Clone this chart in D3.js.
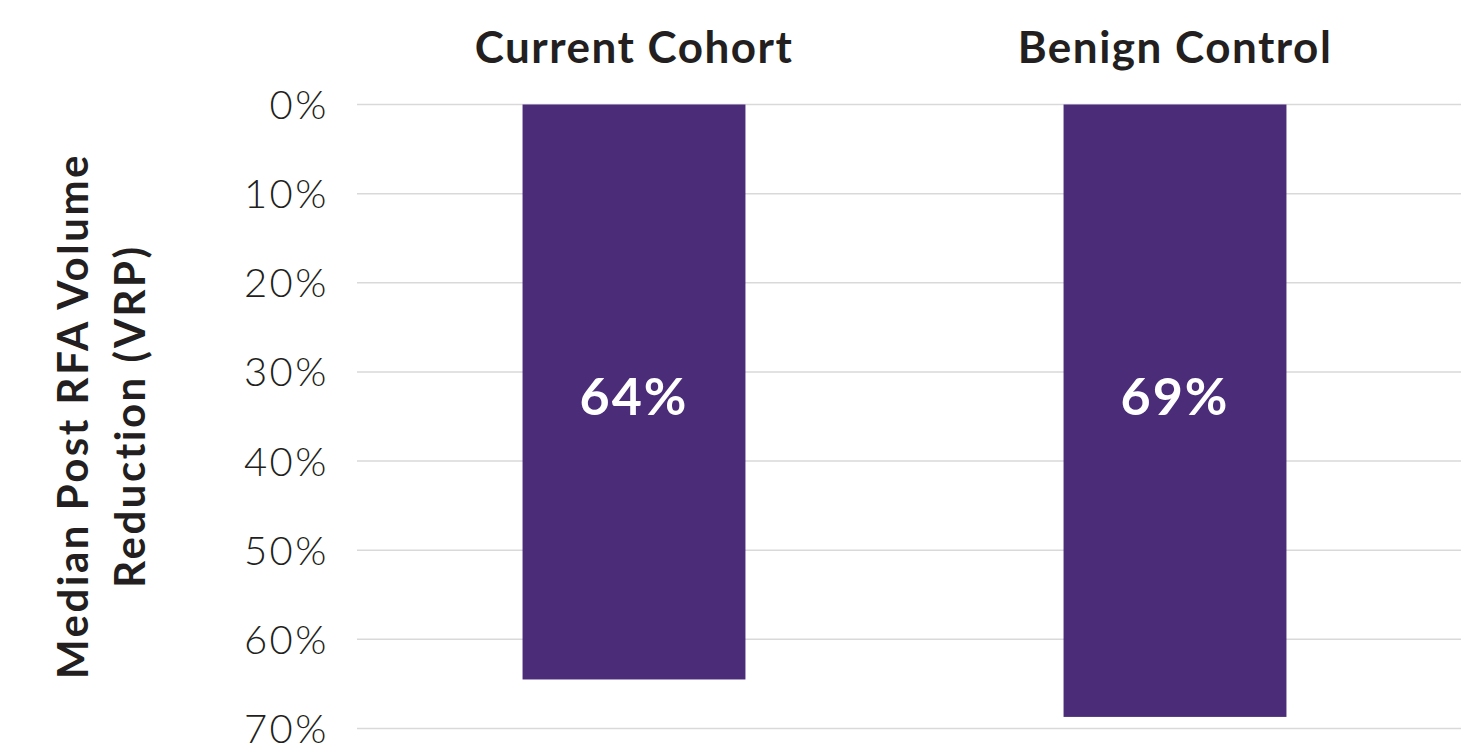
<!DOCTYPE html>
<html>
<head>
<meta charset="utf-8">
<script src="https://cdn.jsdelivr.net/npm/d3@7"></script>
<style>
  html, body { margin: 0; padding: 0; background: #fff; }
  svg { display: block; }
</style>
</head>
<body>
<svg id="chart" width="1461" height="746"></svg>
<script>
// categories and median volume reduction values
const categories = ['Current Cohort', 'Benign Control'];
const values = [0.645, 0.687];
const valueLabels = ['64%', '69%'];
const yTicks = [0, 0.1, 0.2, 0.3, 0.4, 0.5, 0.6, 0.7];
const yTitleLines = ['Median Post RFA Volume', 'Reduction (VRP)'];

const svg = d3.select('#chart');
const width = 1461;

const x = d3.scaleBand()
  .domain(categories)
  .range([357, 1452])
  .paddingInner(0.588)
  .paddingOuter(0.306);

// axis runs downward: 0% at top
const y = d3.scaleLinear()
  .domain([0, 0.7])
  .range([104.5, 728.5]);

// gridlines
svg.append('g')
  .selectAll('line')
  .data(yTicks)
  .enter()
  .append('line')
  .attr('x1', 357)
  .attr('x2', width)
  .attr('y1', d => y(d))
  .attr('y2', d => y(d))
  .attr('stroke', '#d9d9d9')
  .attr('stroke-width', 1.5);

// y tick labels via axis
const yAxis = svg.append('g')
  .attr('transform', 'translate(357,0)')
  .call(d3.axisLeft(y).tickValues(yTicks).tickFormat(d3.format('.0%')).tickSize(0).tickPadding(28));
yAxis.select('.domain').remove();
yAxis.selectAll('text')
  .attr('font-family', 'Lato, sans-serif')
  .attr('font-weight', 300)
  .attr('font-size', 40)
  .attr('letter-spacing', 2.5)
  .attr('fill', '#231f20')
  .attr('dy', '0.35em');

// bars
svg.selectAll('.bar')
  .data(values)
  .enter()
  .append('rect')
  .attr('class', 'bar')
  .attr('x', (d, i) => x(categories[i]))
  .attr('y', y(0))
  .attr('width', x.bandwidth())
  .attr('height', d => y(d) - y(0))
  .attr('fill', '#4b2c78');

// value labels inside bars
svg.selectAll('.val')
  .data(valueLabels)
  .enter()
  .append('text')
  .attr('class', 'val')
  .attr('x', (d, i) => x(categories[i]) + x.bandwidth() / 2)
  .attr('y', 415)
  .attr('text-anchor', 'middle')
  .attr('font-family', 'Lato, sans-serif')
  .attr('font-weight', 700)
  .attr('font-size', 52)
  .attr('letter-spacing', 2)
  .attr('fill', '#ffffff')
  .text(d => d);

// category headers on top
svg.selectAll('.cat')
  .data(categories)
  .enter()
  .append('text')
  .attr('class', 'cat')
  .attr('x', d => x(d) + x.bandwidth() / 2)
  .attr('y', 63)
  .attr('text-anchor', 'middle')
  .attr('font-family', 'Lato, sans-serif')
  .attr('font-weight', 700)
  .attr('font-size', 44)
  .attr('letter-spacing', 1.5)
  .attr('fill', '#231f20')
  .text(d => d);

// y axis title, two lines
svg.append('g')
  .attr('transform', 'translate(0,416) rotate(-90)')
  .selectAll('text')
  .data(yTitleLines)
  .enter()
  .append('text')
  .attr('x', 0)
  .attr('y', (d, i) => 88 + i * 57)
  .attr('text-anchor', 'middle')
  .attr('font-family', 'Lato, sans-serif')
  .attr('font-weight', 700)
  .attr('font-size', 42)
  .attr('letter-spacing', 2.5)
  .attr('fill', '#231f20')
  .text(d => d);
</script>
</body>
</html>
